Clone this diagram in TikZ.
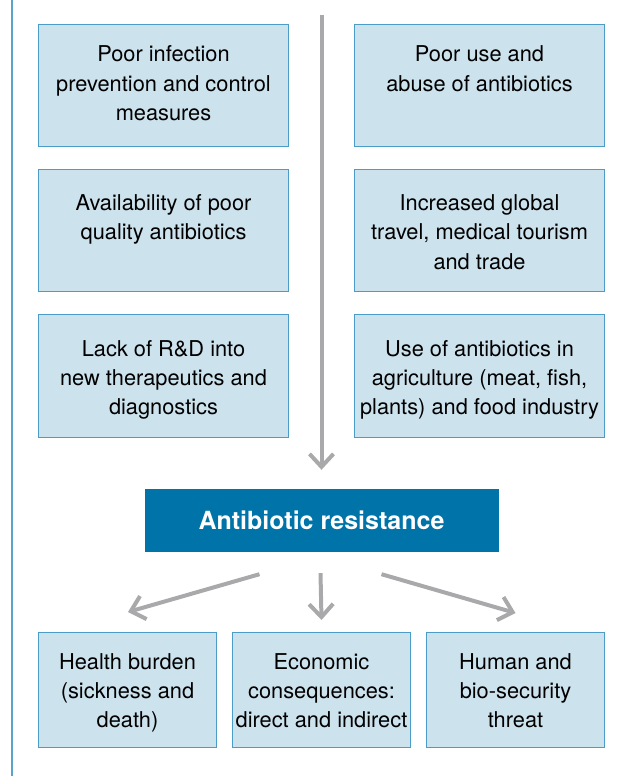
\documentclass[tikz,border=0pt]{standalone}
\usepackage{fontspec}
\setmainfont{TeX Gyre Heros}
\usepackage{tikz}
\usetikzlibrary{arrows.meta, positioning, calc}

\definecolor{boxfill}{HTML}{CCE2ED}
\definecolor{boxline}{HTML}{4B9DC8}
\definecolor{resblue}{HTML}{0073A8}
\definecolor{rulecol}{HTML}{5BA3CB}
\definecolor{arrowgray}{HTML}{A9A9AC}

\begin{document}
\begin{tikzpicture}[
    x=1pt, y=-1pt,
    cause/.style={rectangle, draw=boxline, fill=boxfill, line width=1pt, minimum width=250pt, minimum height=122.5pt, inner xsep=5pt, inner ysep=17pt, font=\fontsize{21.8}{29.3}\selectfont,
        execute at begin node={\begin{minipage}[t][88.5pt][t]{240pt}\vspace*{#1}\centering\strut}, execute at end node={\end{minipage}}},
    cause/.default=3.8pt,
    effect/.style={rectangle, draw=boxline, fill=boxfill, line width=1pt, minimum width=178pt, minimum height=115pt, inner xsep=1pt, inner ysep=16pt, font=\fontsize{21.8}{29.3}\selectfont,
        execute at begin node={\begin{minipage}[t][83pt][t]{176pt}\centering\strut}, execute at end node={\end{minipage}}},
    result/.style={rectangle, fill=resblue, minimum width=354pt, minimum height=63pt, font=\bfseries\fontsize{25}{30}\selectfont, text=white},
    flow/.style={draw=arrowgray, line width=4pt, -{Straight Barb[length=13pt, width=24pt]}}
]
\useasboundingbox (0,0) rectangle (617,776);

% frame rule on the left
\draw[rulecol, line width=2pt] (12,0) -- (12,776);

% causes (left column)
\node[cause=0pt] (c1) at (163.5, 85.5) {Poor infection\\prevention and control\\measures};
\node[cause] (c2) at (163.5, 230.5) {Availability of poor\\quality antibiotics};
\node[cause] (c3) at (163.5, 376) {Lack of R\&D into\\new therapeutics and\\diagnostics};

% causes (right column)
\node[cause=0pt] (c4) at (479.5, 85.5) {Poor use and\\abuse of antibiotics};
\node[cause] (c5) at (479.5, 230.5) {Increased global\\travel, medical tourism\\and trade};
\node[cause] (c6) at (479.5, 376) {Use of antibiotics in\\agriculture (meat, fish,\\plants) and food industry};

% central result
\node[result] (res) at (321.5, 520.5) {Antibiotic resistance};

% consequences
\node[effect] (health) at (127.5, 690) {Health burden\\(sickness and\\death)};
\node[effect] (econ) at (321.5, 690) {Economic\\consequences:\\direct and indirect};
\node[effect] (threat) at (515.5, 690) {Human and\\bio-security\\threat};

% arrow ends
\coordinate (top) at (321.5, 15);
\coordinate (ls) at ([xshift=-62pt, yshift=-22pt]res.south);
\coordinate (ms) at ([xshift=-1pt, yshift=-21pt]res.south);
\coordinate (rs) at ([xshift=60pt, yshift=-22pt]res.south);
\coordinate (hin) at ([xshift=0.5pt, yshift=20pt]health.north);
\coordinate (ein) at ([yshift=12pt]econ.north);
\coordinate (tin) at ([yshift=19pt]threat.north);

% arrows
\draw[flow, shorten >=19pt] (top) -- (res.north);
\draw[flow] (ls) -- (hin);
\draw[flow] (ms) -- (ein);
\draw[flow] (rs) -- (tin);
\end{tikzpicture}
\end{document}
